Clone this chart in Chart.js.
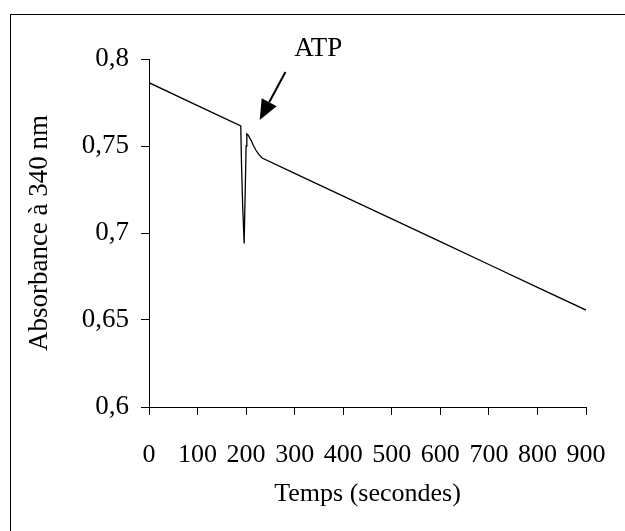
<!DOCTYPE html>
<html>
<head>
<meta charset="utf-8">
<script src="https://cdn.jsdelivr.net/npm/chart.js@4/dist/chart.umd.min.js"></script>
<style>
  html, body { margin: 0; padding: 0; background: #fff; overflow: hidden; }
  #wrap { width: 625px; height: 531px; position: relative; }
</style>
</head>
<body>
<div id="wrap"><canvas id="myChart" width="625" height="531"></canvas></div>
<script>
// temps (s) et absorbance
const temps = [0, 100, 189, 190.5, 193, 196, 198, 200, 201.5, 204, 210, 215, 220, 226, 233, 300, 400, 500, 600, 700, 800, 900];
const absorbance = [0.7864, 0.7732, 0.7615, 0.740, 0.715, 0.694, 0.722, 0.750, 0.7569, 0.7563, 0.7534, 0.7503, 0.7477, 0.7452, 0.7431, 0.7343, 0.7212, 0.7081, 0.6950, 0.6819, 0.6688, 0.6557];

const xTicks = [0, 100, 200, 300, 400, 500, 600, 700, 800, 900];
const yTickLabels = ["0,6", "0,65", "0,7", "0,75", "0,8"];

const titreX = "Temps (secondes)";
const titreY = "Absorbance à 340 nm";
const annotation = "ATP";

const police = "'Liberation Serif', 'Times New Roman', serif";

// cadre autour du graphique + flèche ATP
const decor = {
  id: "decor",
  afterDraw(chart) {
    const ctx = chart.ctx;
    const x = chart.scales.x;
    const y = chart.scales.y;
    ctx.save();
    ctx.strokeStyle = "#000";
    ctx.lineWidth = 1;
    ctx.strokeRect(10.5, 14.5, 700, 600);

    ctx.fillStyle = "#000";
    ctx.font = "27px " + police;
    ctx.textBaseline = "alphabetic";
    ctx.fillText(annotation, x.getPixelForValue(299), y.getPixelForValue(0.8015));

    const x1 = x.getPixelForValue(281), y1 = y.getPixelForValue(0.7925);
    const x2 = x.getPixelForValue(228), y2 = y.getPixelForValue(0.7650);
    const ang = Math.atan2(y2 - y1, x2 - x1);
    const lg = 20, la = 8.5;
    const bx = x2 - lg * Math.cos(ang), by = y2 - lg * Math.sin(ang);
    ctx.lineWidth = 2;
    ctx.beginPath();
    ctx.moveTo(x1, y1);
    ctx.lineTo(bx, by);
    ctx.stroke();
    ctx.beginPath();
    ctx.moveTo(x2, y2);
    ctx.lineTo(bx + la * Math.sin(ang), by - la * Math.cos(ang));
    ctx.lineTo(bx - la * Math.sin(ang), by + la * Math.cos(ang));
    ctx.closePath();
    ctx.fill();
    ctx.restore();
  }
};

const chartDOM = document.getElementById("myChart");
new Chart(chartDOM, {
  type: "line",
  data: {
    datasets: [{
      data: temps.map((t, i) => ({ x: t, y: absorbance[i] })),
      borderColor: "#000",
      borderWidth: 1.3,
      pointRadius: 0,
      tension: 0,
      fill: false
    }]
  },
  options: {
    responsive: false,
    animation: false,
    events: [],
    layout: { padding: { left: 0, top: 59, right: 39, bottom: 0 } },
    plugins: { legend: { display: false }, tooltip: { enabled: false } },
    scales: {
      x: {
        type: "linear",
        min: 0,
        max: 900,
        afterBuildTicks: (s) => { s.ticks = xTicks.map(v => ({ value: v })); },
        afterFit: (s) => { s.height = 124; s.paddingRight = 0; s.paddingLeft = 0; },
        ticks: { color: "#000", font: { family: police, size: 26 }, padding: 25, maxRotation: 0, autoSkip: false },
        grid: { drawOnChartArea: false, drawTicks: true, tickLength: 8, color: "#000" },
        border: { display: true, color: "#000", width: 1 },
        title: { display: true, text: titreX, color: "#000", font: { family: police, size: 26 }, padding: { top: 4, bottom: 21 } }
      },
      y: {
        type: "linear",
        min: 0.6,
        max: 0.8,
        ticks: {
          stepSize: 0.05,
          color: "#000",
          font: { family: police, size: 27 },
          padding: 12,
          callback: (v, i) => yTickLabels[i]
        },
        afterFit: (s) => { s.width = 149; s.paddingTop = 0; s.paddingBottom = 0; },
        grid: { drawOnChartArea: false, drawTicks: true, tickLength: 8, color: "#000" },
        border: { display: true, color: "#000", width: 1 },
        title: { display: true, text: titreY, color: "#000", font: { family: police, size: 27 }, padding: { top: 24, bottom: 4 } }
      }
    }
  },
  plugins: [decor]
});
</script>
</body>
</html>
